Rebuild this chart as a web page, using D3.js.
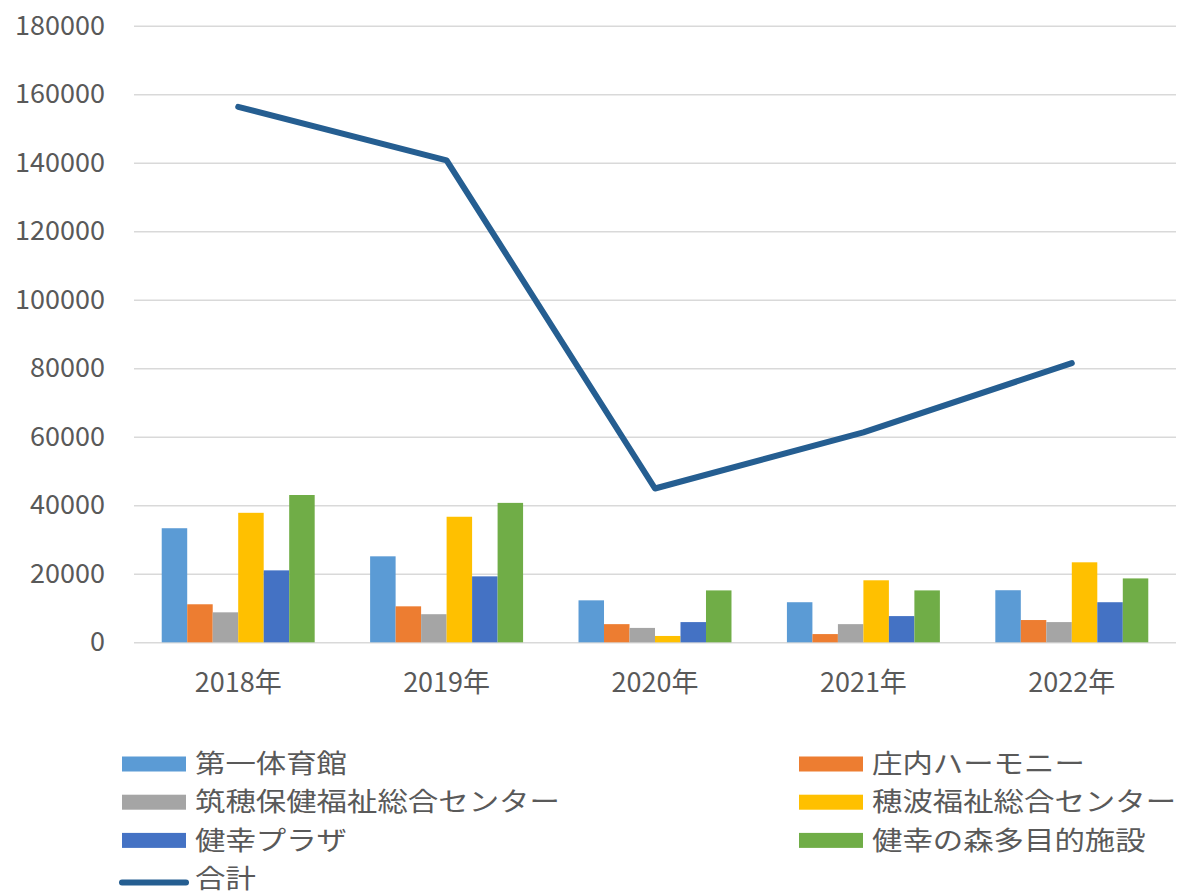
<!DOCTYPE html>
<html>
<head>
<meta charset="utf-8">
<script src="https://cdn.jsdelivr.net/npm/d3@7"></script>
<style>
  body { margin: 0; background: #fff; }
  text { font-family: "Noto Sans CJK JP", "Noto Sans", sans-serif; fill: #595959; }
</style>
</head>
<body>
<script>
// categories and values
let years = ["2018年", "2019年", "2020年", "2021年", "2022年"];
let seriesNames = ["第一体育館", "庄内ハーモニー", "筑穂保健福祉総合センター", "穂波福祉総合センター", "健幸プラザ", "健幸の森多目的施設"];
let dai1 = [33300, 25100, 12250, 11700, 15200];
let shonai = [11100, 10500, 5300, 2400, 6500];
let chikuho = [8750, 8200, 4200, 5300, 5900];
let honami = [37800, 36650, 1850, 18100, 23350];
let kenkoPlaza = [21000, 19250, 5900, 7650, 11700];
let kenkoMori = [43000, 40700, 15150, 15150, 18650];
let total = [156300, 140700, 44900, 61300, 81500];
let yTicks = [0, 20000, 40000, 60000, 80000, 100000, 120000, 140000, 160000, 180000];
let totalName = "合計";

let seriesValues = [dai1, shonai, chikuho, honami, kenkoPlaza, kenkoMori];
let colors = ["#5B9BD5", "#ED7D31", "#A5A5A5", "#FFC000", "#4472C4", "#70AD47"];
let lineColor = "#255E91";

let width = 1180, height = 895;
let plot = { left: 134, right: 1176, top: 25.7, bottom: 642.3 };

let svg = d3.select("body").append("svg")
  .attr("width", width)
  .attr("height", height);

// the scales
let xScale = d3.scaleBand()
  .domain(years)
  .range([plot.left, plot.right])
  .paddingInner(0.266)
  .paddingOuter(0.133);
let innerScale = d3.scaleBand()
  .domain(d3.range(seriesNames.length))
  .range([0, xScale.bandwidth()]);
let yScale = d3.scaleLinear()
  .domain([0, 180000])
  .range([plot.bottom, plot.top]);

// gridlines + y labels
let yAxis = d3.axisLeft(yScale)
  .tickValues(yTicks)
  .tickSize(-(plot.right - plot.left))
  .tickPadding(29)
  .tickFormat(d => "" + d);
let yAxisG = svg.append("g")
  .attr("transform", `translate(${plot.left}, 0)`)
  .call(yAxis);
yAxisG.select(".domain").remove();
yAxisG.selectAll(".tick line").attr("stroke", "#d9d9d9").attr("stroke-width", 1.5);
yAxisG.selectAll(".tick text")
  .attr("font-size", 27)
  .attr("fill", "#595959")
  .attr("font-family", "'Noto Sans CJK JP', sans-serif");

// bars
let groups = svg.append("g")
  .selectAll("g.year")
  .data(years)
  .join("g")
  .classed("year", true)
  .attr("transform", d => `translate(${xScale(d)}, 0)`);
groups.selectAll("rect")
  .data((d, i) => seriesValues.map((vals, s) => ({ s: s, v: vals[i] })))
  .join("rect")
  .attr("x", d => innerScale(d.s))
  .attr("width", innerScale.bandwidth())
  .attr("y", d => yScale(d.v))
  .attr("height", d => yScale(0) - yScale(d.v))
  .attr("fill", d => colors[d.s]);

// x labels
let xAxis = d3.axisBottom(xScale).tickSize(0).tickPadding(31);
let xAxisG = svg.append("g")
  .attr("transform", `translate(0, ${plot.bottom})`)
  .call(xAxis);
xAxisG.select(".domain").remove();
xAxisG.selectAll(".tick text")
  .attr("font-size", 27)
  .attr("fill", "#595959")
  .attr("font-family", "'Noto Sans CJK JP', sans-serif");

// total line
let lineGen = d3.line()
  .x((d, i) => xScale(years[i]) + xScale.bandwidth() / 2)
  .y(d => yScale(d));
svg.append("path")
  .datum(total)
  .attr("d", lineGen)
  .attr("fill", "none")
  .attr("stroke", lineColor)
  .attr("stroke-width", 6)
  .attr("stroke-linecap", "round")
  .attr("stroke-linejoin", "round");

// legend (text is a bit wider than tall in the original, so stretch it)
let legendCols = [122, 799];
let legendRows = [764, 802.2, 840.4, 878.5];
let legend = svg.append("g");
let items = legend.selectAll("g.item")
  .data(seriesNames)
  .join("g")
  .classed("item", true)
  .attr("transform", (d, i) => `translate(${legendCols[i % 2]}, ${legendRows[Math.floor(i / 2)]})`);
items.append("rect")
  .attr("x", 0).attr("y", -7.5)
  .attr("width", 64).attr("height", 15)
  .attr("fill", (d, i) => colors[i]);
items.append("text")
  .attr("transform", "translate(73, 0) scale(1.17, 1)")
  .attr("dy", "0.35em")
  .attr("font-size", 26)
  .text(d => d);
let lineItem = legend.append("g")
  .attr("transform", `translate(${legendCols[0]}, ${legendRows[3]})`);
lineItem.append("line")
  .attr("x1", 0).attr("x2", 64)
  .attr("y1", 4).attr("y2", 4)
  .attr("stroke", lineColor)
  .attr("stroke-width", 6)
  .attr("stroke-linecap", "round");
lineItem.append("text")
  .attr("transform", "translate(73, 0) scale(1.17, 1)")
  .attr("dy", "0.35em")
  .attr("font-size", 26)
  .text(totalName);
</script>
</body>
</html>
